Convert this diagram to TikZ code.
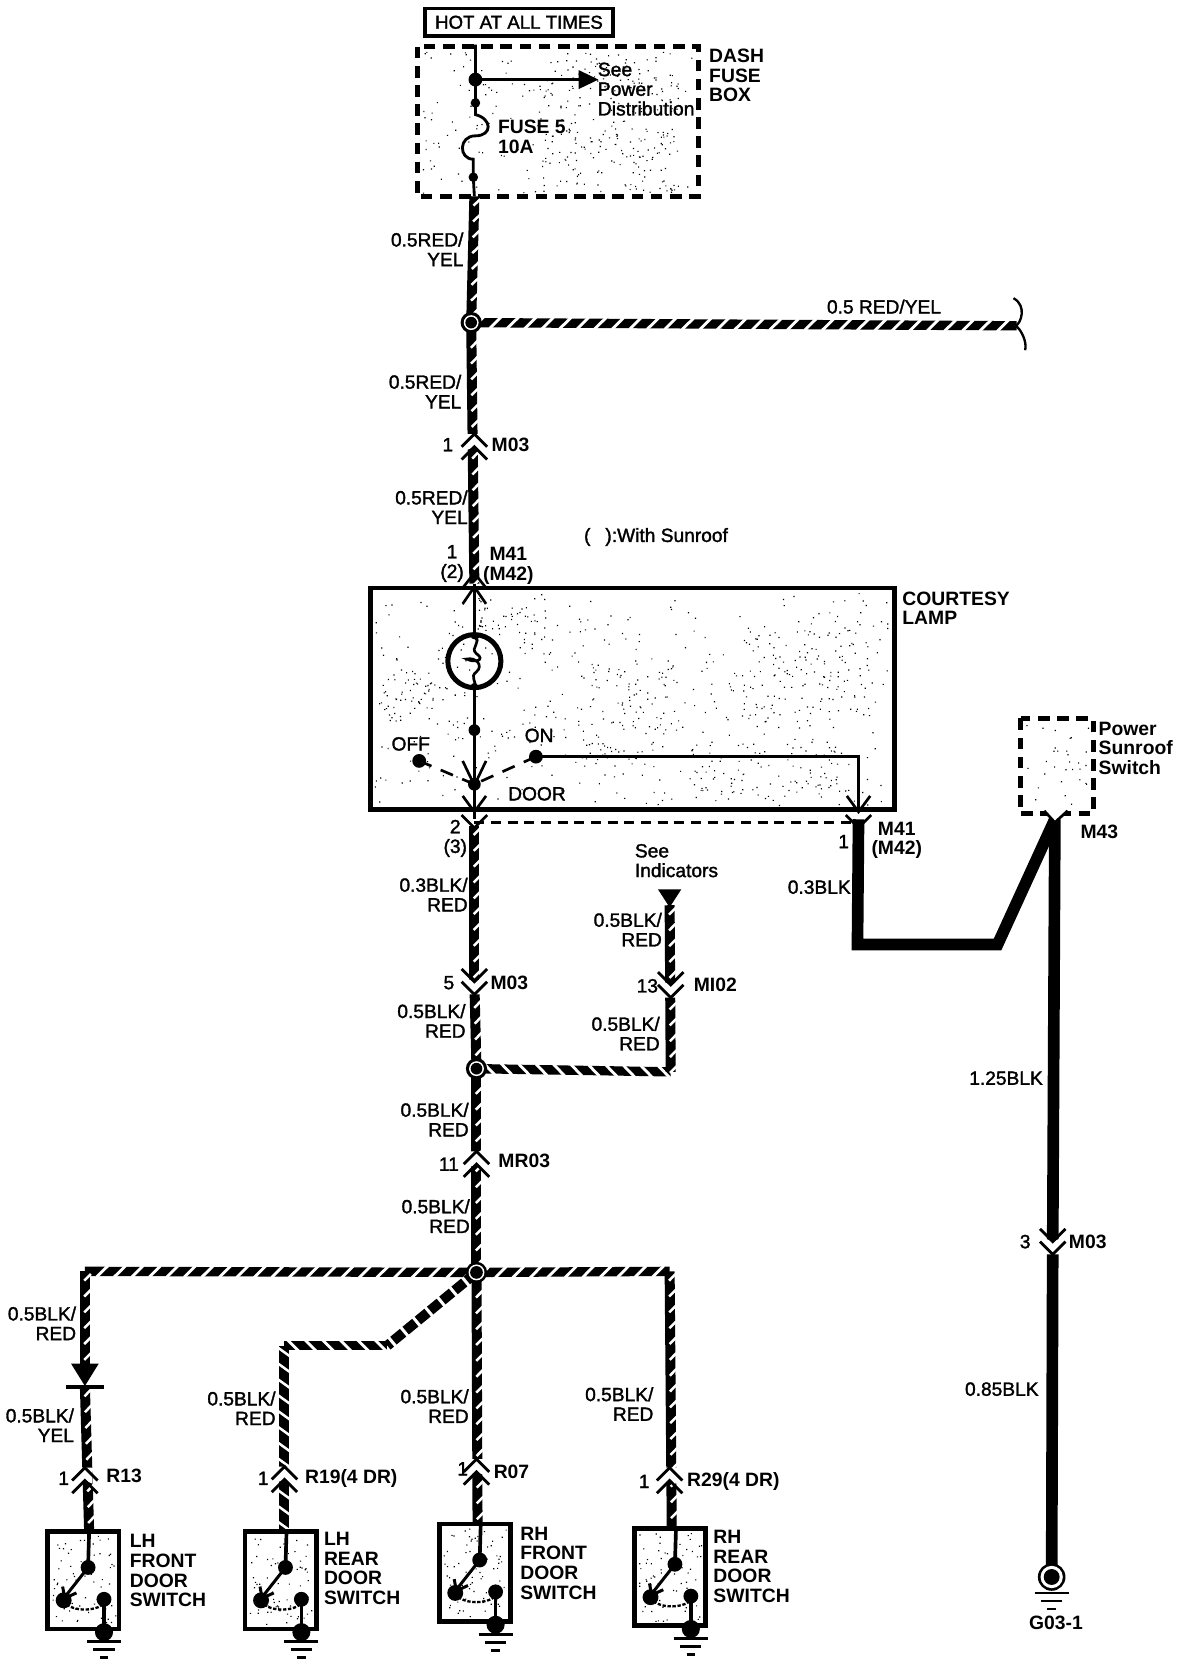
\documentclass[tikz,border=0pt]{standalone}
\usepackage{fontspec}
\setmainfont{Liberation Sans}
\newfontfamily\midf[FakeBold=1.6]{Liberation Sans}
\usetikzlibrary{decorations.markings,arrows.meta}
\newcommand\stip[5]{\fill[black] \foreach \i in {1,...,#5}{ ({#1+rnd*(#3-#1)},{#2+rnd*(#4-#2)}) rectangle ++(1.1,1.1) };}
\newcommand\conup[2]{\begin{scope}[shift={(#1,#2)}]
 \fill[white] (-7,-12) -- (7,-12) -- (7,3) -- (0,0) -- (-7,3) -- cycle;
 \draw[chev] (-12,0) -- (0,-12) -- (12,0);
 \draw[chev] (-12,12) -- (0,0) -- (12,12);
 \end{scope}}
\newcommand\condn[2]{\begin{scope}[shift={(#1,#2)},yscale=-1]
 \fill[white] (-7,-12) -- (7,-12) -- (7,3) -- (0,0) -- (-7,3) -- cycle;
 \draw[chev] (-12,0) -- (0,-12) -- (12,0);
 \draw[chev] (-12,12) -- (0,0) -- (12,12);
 \end{scope}}
\newcommand\gnd[2]{\begin{scope}[shift={(#1,#2)}]
 \draw[line width=1.6pt] (-16,0) -- (16,0) (-10,7.5) -- (10,7.5) (-4,15) -- (4,15);
 \end{scope}}
\newcommand\swbox[2]{\begin{scope}[shift={(#1,#2)}]
 \stip{4}{4}{64}{88}{70}
 \draw[line width=2.8pt] (0,0) rectangle (67,92);
 \draw[line width=2.2pt] (39,0) -- (38,34);
 \fill (38,34) circle (7);
 \fill (15,65) circle (7.5);
 \fill (53,64) circle (7);
 \draw[line width=1.8pt] (38,34) -- (16,62);
 \draw[line width=1.8pt] (14,52) -- (16,63) -- (27,58);
 \draw[line width=1.4pt,dash pattern=on 2pt off 1pt] (15,65) .. controls (20,76) and (45,76) .. (53,68);
 \draw[line width=2.2pt] (53,64) -- (53,94);
 \fill (53,95) circle (8.5);
 \gnd{53}{104}
 \end{scope}}
\tikzset{
 x=0.6367pt,y=-0.6367pt,
 lbl/.style={inner sep=0pt,font=\midf\fontsize{11.5}{11.8}\selectfont,align=right},
 bld/.style={inner sep=0pt,font=\bfseries\fontsize{11.6}{11.8}\selectfont,align=left},
 chev/.style={line width=1.7pt,line cap=butt,miter limit=10},
 thin wire/.style={line width=1.7pt},
 solidw/.style={line width=7pt},
 hw/.style={line width=5.6pt,line cap=square,postaction={decorate},decoration={markings,mark=between positions 4pt and 1 step 10.5pt with {\draw[white,line width=1.7pt,line cap=butt] (-3.4pt,-3.4pt) -- (3.4pt,3.4pt);}}},
 hwb/.style={line width=5.6pt,line cap=square,postaction={decorate},decoration={markings,mark=between positions 4pt and 1 step 10.5pt with {\draw[white,line width=1.7pt,line cap=butt] (3.4pt,-3.4pt) -- (-3.4pt,3.4pt);}}},
 vw/.style={line width=6pt,line cap=butt,postaction={decorate},decoration={markings,mark=between positions 4pt and 1 step 9.5pt with {\draw[white,line width=1.5pt,line cap=butt] (-2.4pt,3.6pt) -- (1.6pt,-.4pt);}}},
 vwb/.style={line width=6pt,line cap=butt,postaction={decorate},decoration={markings,mark=between positions 4pt and 1 step 9.5pt with {\draw[white,line width=1.5pt,line cap=butt] (-2.6pt,-3.6pt) -- (2.6pt,3.6pt);}}},
 dw/.style={line width=6pt,dash pattern=on 7.5pt off 2pt},
 dbox/.style={line width=3pt,dash pattern=on 7pt off 4.5pt},
}
\begin{document}
\begin{tikzpicture}
\pgfmathsetseed{11}
\useasboundingbox (0,0) rectangle (1115.7,1568);
\fill[white] (0,0) rectangle (1115.7,1568);
% named points
\coordinate (jtop) at (448,75);
\coordinate (fusetop) at (448,97);
\coordinate (fuselow) at (446,167);
\coordinate (boxexit) at (447,185);
\coordinate (j1) at (444,304);
\coordinate (brk) at (958,307);
\coordinate (c2) at (447,550);
\coordinate (lampc) at (447,623);
\coordinate (dotl) at (447,688);
\coordinate (jdoor) at (447,739);
\coordinate (coff) at (395,717);
\coordinate (con) at (505,713);
\coordinate (onc) at (809,713);
\coordinate (c3) at (447,772);
\coordinate (c4) at (809,772);
\coordinate (c5) at (447,926);
\coordinate (j2) at (449,1007);
\coordinate (c6) at (449,1095);
\coordinate (j3) at (449,1199);
\coordinate (ind) at (631,853);
\coordinate (indc) at (632,1010);
\coordinate (lc) at (80,1198);
\coordinate (dio) at (80,1288);
\coordinate (s1) at (84,1443);
\coordinate (m1) at (365,1268);
\coordinate (m2) at (268,1268);
\coordinate (s2) at (268,1443);
\coordinate (s3) at (450,1436);
\coordinate (rc) at (631,1198);
\coordinate (s4) at (633,1440);
\coordinate (m43) at (994,772);
\coordinate (k1) at (808,890);
\coordinate (k2) at (940,890);
\coordinate (c12) at (992,1170);
\coordinate (g1) at (991,1486);
% stipple + boxes
\stip{397}{48}{654}{182}{170}
\stip{505}{55}{640}{105}{90}
\stip{510}{120}{640}{180}{110}
\stip{353}{558}{839}{759}{420}
\stip{540}{620}{640}{720}{90}
\stip{700}{590}{820}{680}{110}
\stip{355}{630}{410}{680}{50}
\stip{450}{570}{520}{620}{50}
\stip{650}{700}{800}{755}{90}
\stip{966}{681}{1026}{763}{30}
\draw[dbox] (393,44) rectangle (658,185);
\draw[line width=2.8pt] (349,554) rectangle (843,763);
\draw[dbox] (962,677) rectangle (1030,767);
% hot box
\node[draw,line width=2.2pt,minimum width=113pt,minimum height=16.5pt,inner sep=0pt,font=\midf\fontsize{11.2}{12}\selectfont] (hot) at (489,21) {HOT AT ALL TIMES};
% fuse part
\draw[thin wire] (448,42) -- (jtop) -- (fusetop) -- (448,108) .. controls (464,112) and (464,128) .. (448,128) .. controls (432,128) and (432,150) .. (446,150) -- (fuselow) -- (boxexit);
\fill (jtop) circle (6.5);
\fill (fusetop) circle (4.5);
\fill (fuselow) circle (4.5);
\draw[thin wire,-{Triangle[length=12pt,width=11pt]}] (jtop) -- (564,75);
% main striped wires
\draw[vw] (boxexit) -- (j1);
\draw[hw] (j1) -- (brk);
\draw[vw] (j1) -- (c2);
\draw[line width=1.4pt] (955,281) .. controls (968,288) and (962,305) .. (957,307) .. controls (962,310) and (968,322) .. (966,330);
\fill (j1) circle (10); \fill[white] (j1) circle (7); \fill (j1) circle (5.5);
\conup{447}{421}
% lamp interior
\draw[thin wire] (c2) -- (447,598);
\draw[line width=3pt] (lampc) circle (25);
\draw[line width=1.6pt] (447,598) .. controls (455,606) and (442,610) .. (449,616) .. controls (458,622) and (447,625) .. (440,621) .. controls (448,619) and (456,627) .. (449,633) .. controls (442,638) and (450,642) .. (447,648);
\fill (447,599) circle (3.5) (447,647) circle (3.5);
\draw[thin wire] (447,647) -- (dotl) -- (jdoor) -- (c3);
\fill (dotl) circle (5.5);
\fill (jdoor) circle (6);
\fill (coff) circle (6.5);
\fill (con) circle (6.5);
\draw[line width=1.6pt,dash pattern=on 8pt off 6pt] (coff) -- (jdoor);
\draw[line width=1.6pt,dash pattern=on 8pt off 6pt] (con) -- (jdoor);
\draw[thin wire] (con) -- (onc) -- (809,765);
\draw[line width=1.6pt] (436,717) -- (447,740) -- (458,717);
\draw[line width=1.6pt] (436,750) -- (447,765) -- (458,750);
\draw[line width=1.6pt] (798,750) -- (809,765) -- (820,750);
\draw[line width=1.6pt] (436,569) -- (447,553) -- (458,569);
\draw[line width=1.6pt] (436,554) -- (447,540) -- (458,554);
% lower wires
\draw[vw] (447,778) -- (c5);
\draw[vw] (c5) -- (j2);
\draw[vw] (j2) -- (c6);
\draw[vw] (c6) -- (j3);
\draw[hwb] (indc) -- (j2);
\draw[vw] (ind) -- (indc);
\draw[line width=1.6pt] (435,768) -- (447,780) -- (459,768);
\draw[line width=1.6pt] (797,768) -- (809,780) -- (821,768);
\draw[line width=1.4pt,dash pattern=on 6pt off 4pt] (447,775) -- (809,775);
\fill (620,838) -- (642,838) -- (631,855) -- cycle;
\fill (j2) circle (10); \fill[white] (j2) circle (7); \fill (j2) circle (5.5);
\condn{447}{925}
\condn{632}{928}
\conup{449}{1097}
% branches
\draw[hw] (j3) -- (lc);
\draw[vw] (lc) -- (dio);
\draw[vw] (80,1307) -- (s1);
\fill (67,1285) -- (93,1285) -- (80,1306) -- cycle;
\draw[line width=2pt] (62,1307) -- (98,1307);
\conup{80}{1395}
\draw[dw] (j3) -- (m1);
\draw[hwb] (m1) -- (m2);
\draw[vwb] (m2) -- (s2);
\conup{268}{1394}
\draw[vw] (j3) -- (s3);
\conup{449}{1387}
\draw[hw] (j3) -- (rc);
\draw[vw] (rc) -- (s4);
\conup{631}{1395}
\fill (j3) circle (10); \fill[white] (j3) circle (7.5); \fill (j3) circle (6);
\swbox{45}{1443}
\swbox{231}{1443}
\swbox{414}{1436}
\swbox{598}{1440}
% solid black wires
\draw[solidw,line join=miter] (c4) -- (k1) -- (k2) -- (m43);
\draw[solidw] (m43) -- (c12) -- (g1);
\draw[line width=1.6pt,fill=white] (984,764) -- (994,775) -- (1006,764);
\condn{992}{1170}
\fill (g1) circle (13); \fill[white] (g1) circle (10.5); \fill (g1) circle (7.5);
\gnd{991}{1501}
% labels
\node[bld,anchor=west,font=\midf\fontsize{11.6}{11.8}\selectfont] (t1) at (563,84) {See\\Power\\Distribution};
\node[bld,anchor=west] (t2) at (668,71) {DASH\\FUSE\\BOX};
\node[bld,anchor=west] (t3) at (469,129) {FUSE 5\\10A};
\node[lbl,anchor=east] (t4) at (437,235) {0.5RED/\\YEL\hspace{6pt}};
\node[lbl,anchor=center] (t5) at (833,289) {0.5 RED/YEL};
\node[lbl,anchor=east] (t6) at (435,369) {0.5RED/\\YEL\hspace{6pt}};
\node[lbl] (t7) at (422,419) {1};
\node[bld] (t8) at (481,419) {M03};
\node[lbl,anchor=east] (t9) at (441,478) {0.5RED/\\YEL\hspace{6pt}};
\node[lbl,anchor=west] (t10) at (550,506) {(\hspace{9pt}):With Sunroof};
\node[lbl,align=center] (t11) at (426,531) {1\\(2)};
\node[bld,align=center] (t12) at (479,533) {M41\\(M42)};
\node[bld,anchor=west] (t13) at (850,573) {COURTESY\\LAMP};
\node[lbl] (t14) at (387,701) {OFF};
\node[lbl] (t15) at (508,693) {ON};
\node[lbl] (t16) at (506,748) {DOOR};
\node[lbl,align=center] (t17) at (429,790) {2\\(3)};
\node[bld,align=center] (t18) at (845,792) {M41\\(M42)};
\node[lbl] (t19) at (795,793) {1};
\node[lbl,anchor=west,align=left] (t20) at (598,811) {See\\Indicators};
\node[lbl] (t21) at (772,836) {0.3BLK};
\node[lbl,anchor=east] (t22) at (441,843) {0.3BLK/\\RED};
\node[lbl,anchor=east] (t23) at (624,876) {0.5BLK/\\RED};
\node[lbl] (t24) at (423,926) {5};
\node[bld] (t25) at (480,926) {M03};
\node[lbl] (t26) at (610,929) {13};
\node[bld] (t27) at (674,928) {MI02};
\node[lbl,anchor=east] (t28) at (439,962) {0.5BLK/\\RED};
\node[lbl,anchor=east] (t29) at (622,974) {0.5BLK/\\RED};
\node[lbl,anchor=east] (t30) at (442,1055) {0.5BLK/\\RED};
\node[lbl] (t31) at (423,1097) {11};
\node[bld] (t32) at (494,1094) {MR03};
\node[lbl,anchor=east] (t33) at (443,1146) {0.5BLK/\\RED};
\node[lbl] (t34) at (948,1016) {1.25BLK};
\node[lbl] (t35) at (966,1170) {3};
\node[bld] (t36) at (1025,1170) {M03};
\node[lbl] (t37) at (944,1309) {0.85BLK};
\node[lbl,anchor=east] (t38) at (72,1247) {0.5BLK/\\RED};
\node[lbl,anchor=east] (t39) at (70,1343) {0.5BLK/\\YEL\hspace{8pt}};
\node[lbl,anchor=east] (t40) at (260,1327) {0.5BLK/\\RED};
\node[lbl,anchor=east] (t41) at (442,1325) {0.5BLK/\\RED};
\node[lbl,anchor=east] (t42) at (616,1323) {0.5BLK/\\RED};
\node[lbl] (t43) at (60,1393) {1};
\node[bld] (t44) at (117,1391) {R13};
\node[lbl] (t45) at (248,1393) {1};
\node[bld] (t46) at (331,1393) {R19(4 DR)};
\node[lbl] (t47) at (436,1384) {1};
\node[bld] (t48) at (482,1387) {R07};
\node[lbl] (t49) at (607,1396) {1};
\node[bld] (t50) at (691,1396) {R29(4 DR)};
\node[bld,anchor=west] (t51) at (122,1480) {LH\\FRONT\\DOOR\\SWITCH};
\node[bld,anchor=west] (t52) at (305,1478) {LH\\REAR\\DOOR\\SWITCH};
\node[bld,anchor=west] (t53) at (490,1473) {RH\\FRONT\\DOOR\\SWITCH};
\node[bld,anchor=west] (t54) at (672,1476) {RH\\REAR\\DOOR\\SWITCH};
\node[bld,anchor=west] (t55) at (1035,705) {Power\\Sunroof\\Switch};
\node[bld] (t56) at (1036,784) {M43};
\node[bld] (t57) at (995,1529) {G03-1};
\end{tikzpicture}
\end{document}
